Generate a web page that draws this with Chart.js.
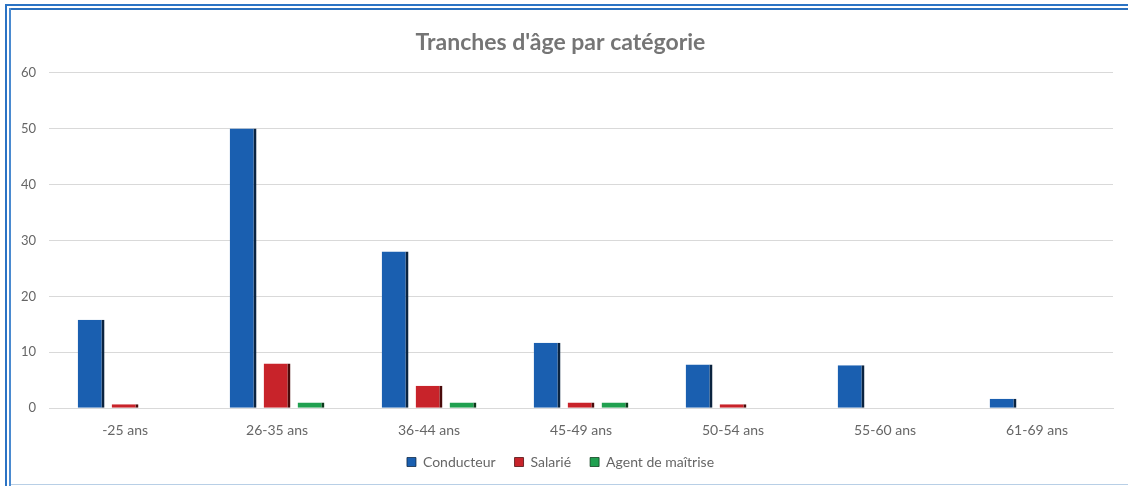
<!DOCTYPE html>
<html lang="fr">
<head>
<meta charset="utf-8">
<title>Tranches d'âge par catégorie</title>
<script src="https://cdn.jsdelivr.net/npm/chart.js@4.4.0/dist/chart.umd.min.js"></script>
<style>
    html, body { margin: 0; padding: 0; background: #fff; }
    #wrap { position: relative; width: 1128px; height: 486px; overflow: hidden; }
    #chart { position: absolute; left: 0; top: 0; }
    .frame { position: absolute; }
</style>
</head>
<body>
<div id="wrap">
    <canvas id="chart" width="1128" height="486"></canvas>
    <!-- double blue frame, like the sheet border -->
    <div class="frame" style="left:5px; top:4px; width:1123px; height:2px; background:#2b73c4;"></div>
    <div class="frame" style="left:9px; top:8px; width:1119px; height:2px; background:#2a6fbd;"></div>
    <div class="frame" style="left:5px; top:4px; width:2px; height:482px; background:#2b73c4;"></div>
    <div class="frame" style="left:9px; top:8px; width:2px; height:478px; background:#4a8ad0;"></div>
    <div class="frame" style="left:11px; top:484px; width:1117px; height:1px; background:#b8cfe6;"></div>
</div>
<script>
"use strict";

// Data
const categories = ['-25 ans', '26-35 ans', '36-44 ans', '45-49 ans', '50-54 ans', '55-60 ans', '61-69 ans'];
const conducteur = [15.8, 50, 28, 11.7, 7.8, 7.7, 1.7];
const salarie = [0.7, 8, 4, 1, 0.7, 0, 0];
const agentMaitrise = [0, 1, 1, 1, 0, 0, 0];
const yTicks = [0, 10, 20, 30, 40, 50, 60];

const textColor = '#666666';
const gridColor = '#d9d9d9';
const fontFamily = "Lato, 'Open Sans', sans-serif";

function barSet(label, values, fill, edge) {
    return {
        label: label,
        data: values,
        backgroundColor: fill,
        borderColor: edge,
        borderWidth: { top: 0, left: 0, bottom: 0, right: 3 },
        borderSkipped: false,
        categoryPercentage: 0.67,
        barPercentage: 0.79
    };
}

const ctx = document.getElementById('chart').getContext('2d');
new Chart(ctx, {
    type: 'bar',
    data: {
        labels: categories,
        datasets: [
            barSet('Conducteur', conducteur, '#1a5fb0', '#0b2440'),
            barSet('Salarié', salarie, '#c8232a', '#4a0a0a'),
            barSet('Agent de maîtrise', agentMaitrise, '#20a050', '#0b3a1a')
        ]
    },
    options: {
        responsive: false,
        animation: false,
        layout: { padding: { left: 8, right: 15, top: 0, bottom: 7 } },
        plugins: {
            title: {
                display: true,
                text: "Tranches d'âge par catégorie",
                color: '#757575',
                font: { family: fontFamily, size: 23, weight: 'bold' },
                padding: { top: 29, bottom: 16 }
            },
            legend: {
                position: 'bottom',
                labels: {
                    color: textColor,
                    font: { family: fontFamily, size: 14 },
                    boxWidth: 9,
                    boxHeight: 9,
                    padding: 19
                }
            },
            tooltip: { enabled: false }
        },
        scales: {
            x: {
                grid: { display: false, drawTicks: false },
                border: { color: gridColor },
                ticks: { color: textColor, font: { family: fontFamily, size: 14 }, padding: 14 },
                // pull the legend closer to the category labels
                afterFit: (scale) => { scale.height -= 17; }
            },
            y: {
                min: 0,
                max: 60,
                afterBuildTicks: (axis) => { axis.ticks = yTicks.map(v => ({ value: v })); },
                grid: { color: gridColor, drawTicks: false },
                border: { display: false },
                ticks: { color: textColor, font: { family: fontFamily, size: 13 }, padding: 13 }
            }
        }
    }
});
</script>
</body>
</html>
